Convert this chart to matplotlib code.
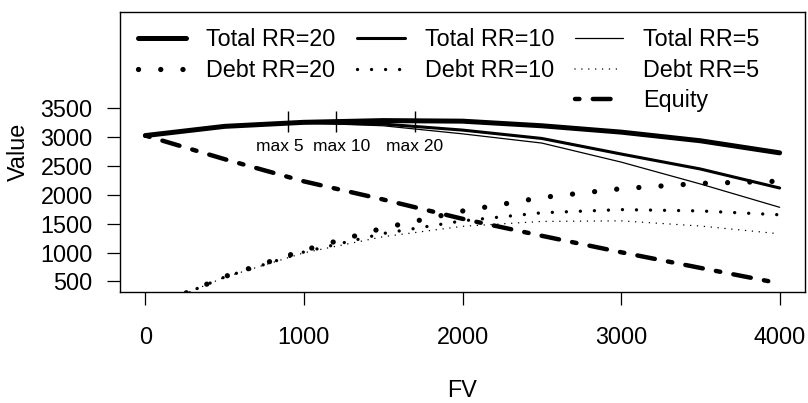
import matplotlib
matplotlib.use("Agg")
import matplotlib.pyplot as plt
from matplotlib.lines import Line2D

plt.rcParams['font.family'] = ['Liberation Sans', 'DejaVu Sans']

fv = [0, 500, 1000, 1500, 2000, 2500, 3000, 3500, 4000]
total_20 = [3030, 3190, 3260, 3290, 3280, 3200, 3090, 2940, 2730]
total_10 = [3030, 3190, 3255, 3230, 3125, 2980, 2710, 2450, 2120]
total_5 = [3030, 3185, 3250, 3200, 3060, 2900, 2570, 2190, 1785]
debt_20 = [0, 582, 1040, 1425, 1720, 1955, 2108, 2200, 2238]
debt_10 = [0, 575, 1010, 1330, 1550, 1690, 1745, 1722, 1655]
debt_5 = [0, 570, 995, 1275, 1455, 1540, 1550, 1460, 1325]
equity = [3030, 2620, 2235, 1920, 1585, 1290, 1005, 733, 465]

max_fv = [900, 1200, 1700]
max_lo, max_hi = 3090, 3460
max_labels = ['max 5', 'max 10', 'max 20']
max_label_fv = [850, 1240, 1700]
max_label_y = 2757

xticks = [0, 1000, 2000, 3000, 4000]
yticks = [500, 1000, 1500, 2000, 2500, 3000, 3500]

W, H = 808, 403
fig = plt.figure(figsize=(W / 100, H / 100), dpi=100)
ax = fig.add_axes([120 / W, (H - 291.7) / H, (805 - 120) / W, (291.7 - 11.7) / H])

fs = 16.8
ax.plot(fv, total_20, color='black', lw=3.6, solid_capstyle='round', label='Total RR=20')
ax.plot(fv, total_10, color='black', lw=2.2, solid_capstyle='round', label='Total RR=10')
ax.plot(fv, total_5, color='black', lw=0.9, solid_capstyle='round', label='Total RR=5')
ax.plot(fv, debt_20, color='black', lw=3.8, ls=(0, (0.01, 4.2)), dash_capstyle='round', label='Debt RR=20')
ax.plot(fv, debt_10, color='black', lw=2.4, ls=(0, (0.01, 4.2)), dash_capstyle='round', label='Debt RR=10')
ax.plot(fv, debt_5, color='black', lw=1.1, ls=(0, (0.01, 4.5)), dash_capstyle='round', label='Debt RR=5')
ax.plot(fv, equity, color='black', lw=3.2, ls=(0, (1, 3, 4, 3)), dash_capstyle='round', label='Equity')

ax.vlines(max_fv, max_lo, max_hi, color='black', lw=1.0)
for x, s in zip(max_label_fv, max_labels):
    ax.text(x, max_label_y, s, fontsize=12.5, ha='center', va='baseline')

ax.set_xlim(-160, 4160)
ax.set_ylim(320, 5180)
ax.set_xticks(xticks)
ax.set_yticks(yticks)
ax.tick_params(direction='out', length=9.7, width=0.9, labelsize=fs)
ax.tick_params(axis='x', pad=15)
ax.tick_params(axis='y', pad=10)
for sp in ax.spines.values():
    sp.set_linewidth(1.0)

ax.set_xlabel('FV', fontsize=fs, va='baseline')
ax.xaxis.set_label_coords(0.5, (291.7 - 397) / 280)
ax.set_ylabel('Value', fontsize=fs)
ax.yaxis.set_label_coords(-0.131, 0.5)

h = {l.get_label(): l for l in ax.get_lines()}
blank = Line2D([], [], color='none')
handles = [h['Total RR=20'], h['Debt RR=20'], blank,
           h['Total RR=10'], h['Debt RR=10'], blank,
           h['Total RR=5'], h['Debt RR=5'], h['Equity']]
labels = ['Total RR=20', 'Debt RR=20', '',
          'Total RR=10', 'Debt RR=10', '',
          'Total RR=5', 'Debt RR=5', 'Equity']
fig.legend(handles, labels, ncol=3, loc='upper left',
           bbox_to_anchor=(138 / W, 1 - 28 / H), frameon=False, fontsize=fs,
           borderpad=0, borderaxespad=0, handlelength=2.06, handletextpad=0.86,
           columnspacing=0.9, labelspacing=0.33)

fig.savefig('out.png', dpi=100)
